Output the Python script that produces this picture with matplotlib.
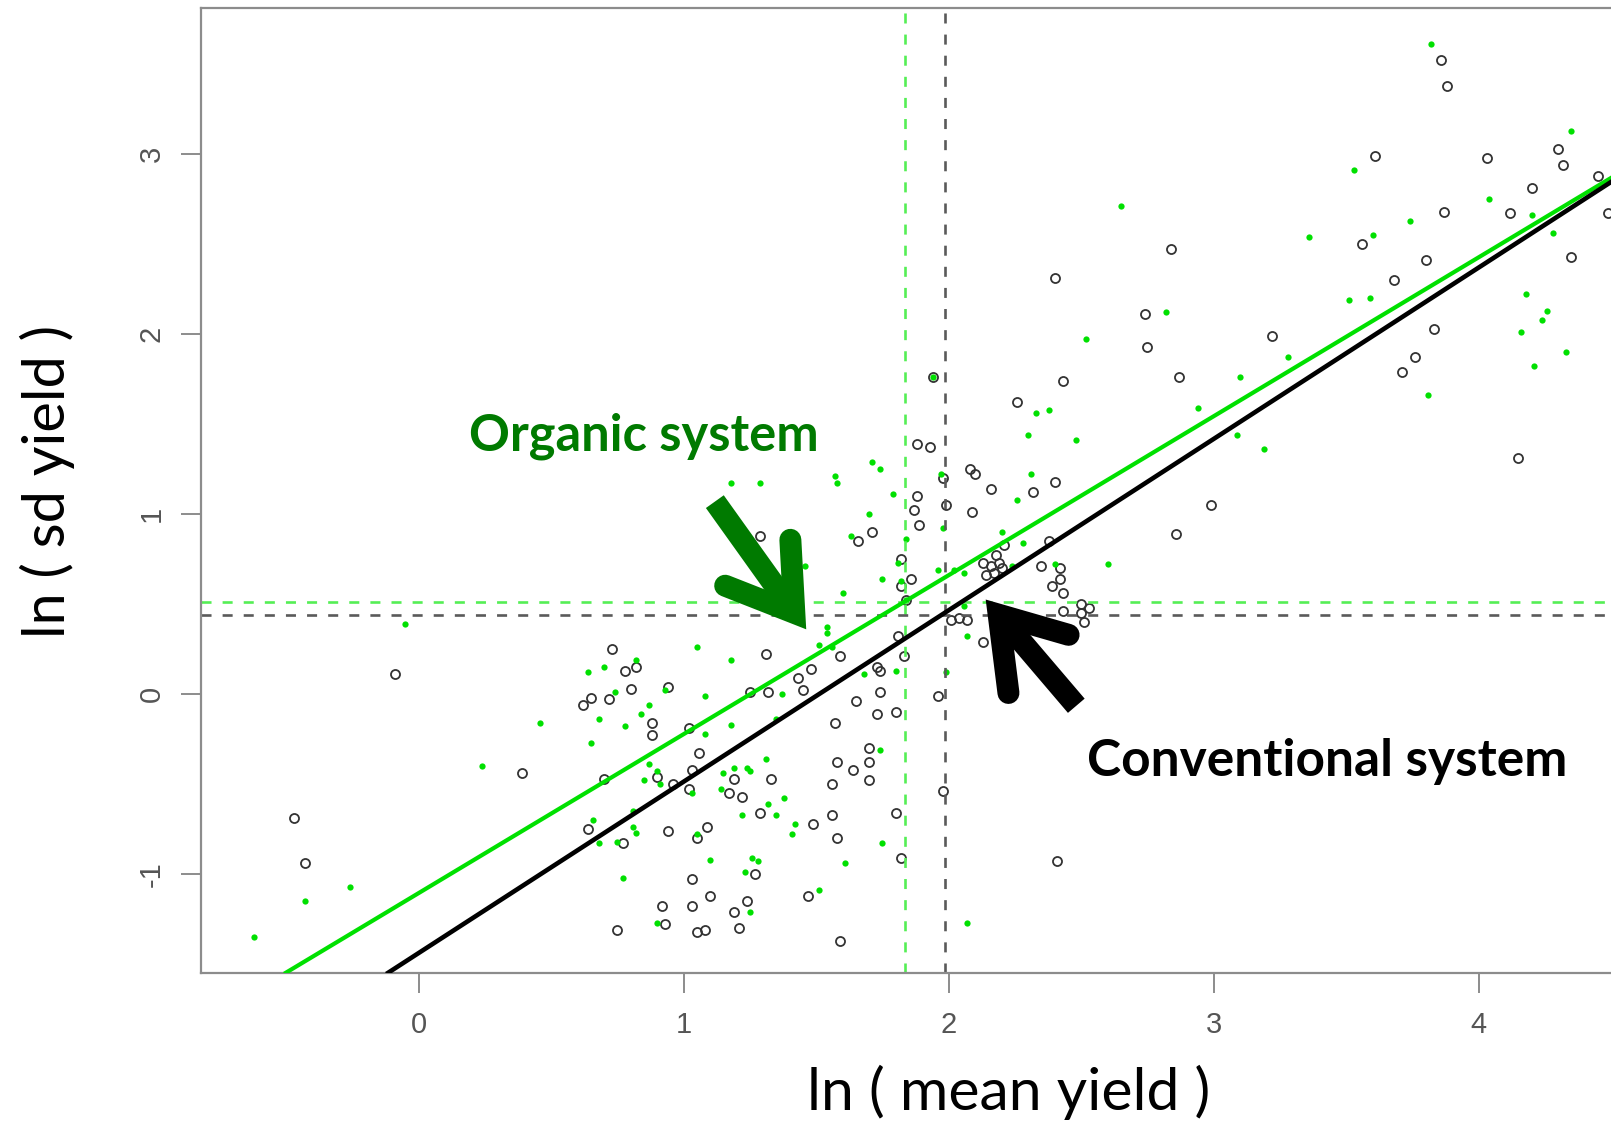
import matplotlib
matplotlib.use("Agg")
import matplotlib.pyplot as plt

plt.rcParams['axes.unicode_minus'] = False

# ---- data: ln(mean yield) vs ln(sd yield) per crop/site ----
conv_x = [-0.09, 0.73, 0.78, 0.82, 0.80, 0.94, 0.62, 0.65, 0.72, 0.88, 0.88, 1.02, 1.06, 0.39, 0.70,
          0.90, 1.03, 0.96, 1.02, 0.64, 0.94, 0.77, 1.05, 1.03, 0.92, 1.03, 0.93, 0.75, 1.05, -0.47,
          -0.43,
          2.26, 1.88, 1.93, 2.08, 2.10, 1.98, 2.40, 2.16, 2.32, 1.88, 1.99, 1.87, 2.09, 1.89, 1.71,
          1.66, 1.29, 2.21, 2.38, 1.82, 2.13, 2.16, 2.19, 2.18, 2.14, 2.17, 2.20, 1.86, 1.82, 2.35,
          2.42, 2.42, 2.39, 2.43, 2.50, 2.53, 2.43, 2.50, 2.51, 1.84, 2.01, 2.04, 2.07, 2.13, 1.81,
          1.31, 1.59, 1.83, 1.48, 1.43, 1.73, 1.74, 1.45, 1.25, 1.32, 1.74, 1.96,
          1.65, 1.73, 1.80, 1.57, 1.70, 1.58, 1.64, 1.70, 1.70, 1.56, 1.19, 1.33, 1.17, 1.22, 1.98,
          1.29, 1.56, 1.80, 1.49, 1.09, 1.58, 1.82, 2.41, 1.27, 1.10, 1.24, 1.19, 1.47, 1.21, 1.08,
          1.59,
          2.40, 1.94, 2.43,
          3.86, 3.88, 3.61, 4.03, 4.30, 4.32, 4.45, 4.20, 3.87, 4.12, 4.49, 3.56, 2.84, 3.80, 3.68,
          4.35, 2.74, 2.75, 3.22, 3.83, 3.76, 3.71, 2.87, 4.15,
          2.99, 2.86]
conv_y = [0.11, 0.25, 0.13, 0.15, 0.03, 0.04, -0.06, -0.02, -0.03, -0.16, -0.23, -0.19, -0.33, -0.44, -0.47,
          -0.46, -0.42, -0.50, -0.53, -0.75, -0.76, -0.83, -0.80, -1.03, -1.18, -1.18, -1.28, -1.31, -1.32, -0.69,
          -0.94,
          1.62, 1.39, 1.37, 1.25, 1.22, 1.20, 1.18, 1.14, 1.12, 1.10, 1.05, 1.02, 1.01, 0.94, 0.90,
          0.85, 0.88, 0.83, 0.85, 0.75, 0.73, 0.71, 0.73, 0.77, 0.66, 0.67, 0.70, 0.64, 0.60, 0.71,
          0.70, 0.64, 0.60, 0.56, 0.50, 0.48, 0.46, 0.45, 0.40, 0.52, 0.41, 0.42, 0.41, 0.29, 0.32,
          0.22, 0.21, 0.21, 0.14, 0.09, 0.15, 0.13, 0.02, 0.01, 0.01, 0.01, -0.01,
          -0.04, -0.11, -0.10, -0.16, -0.30, -0.38, -0.42, -0.38, -0.48, -0.50, -0.47, -0.47, -0.55, -0.57, -0.54,
          -0.66, -0.67, -0.66, -0.72, -0.74, -0.80, -0.91, -0.93, -1.00, -1.12, -1.15, -1.21, -1.12, -1.30, -1.31,
          -1.37,
          2.31, 1.76, 1.74,
          3.52, 3.38, 2.99, 2.98, 3.03, 2.94, 2.88, 2.81, 2.68, 2.67, 2.67, 2.50, 2.47, 2.41, 2.30,
          2.43, 2.11, 1.93, 1.99, 2.03, 1.87, 1.79, 1.76, 1.31,
          1.05, 0.89]

org_x = [-0.05, 1.05, 0.64, 0.70, 0.82, 0.74, 0.46, 0.68, 0.65, 0.78, 0.84, 0.87, 0.93, 0.24, 0.87,
         0.90, 0.85, 0.91, 1.03, 0.66, 0.81, 0.81, 0.82, 0.68, 0.75, 1.05, 0.77, 0.90, -0.26, -0.43,
         -0.62,
         2.33, 2.38, 2.30, 2.48, 1.71, 1.74, 1.57, 1.58, 1.18, 1.29, 1.97, 2.31, 1.79, 2.26, 1.70,
         1.98, 1.63, 1.84, 2.20, 2.28, 1.81, 1.96, 2.02, 2.06, 2.24, 2.40, 2.60, 1.75, 1.82, 1.60,
         1.84, 2.06, 1.54, 1.54, 1.51, 1.56, 2.07, 1.18, 1.68, 1.80, 1.99, 1.37, 1.08, 1.46,
         1.18, 1.08, 1.35, 1.31, 1.15, 1.19, 1.24, 1.25, 1.14, 1.74, 1.38, 1.32, 1.35, 1.22, 1.42,
         1.41, 1.75, 1.10, 1.26, 1.28, 1.61, 1.23, 1.51, 1.25, 2.07,
         2.52, 1.94,
         3.82, 4.35, 3.53, 2.65, 4.04, 4.20, 3.74, 3.60, 3.36, 4.28, 3.51, 3.59, 2.82, 4.18, 4.26,
         4.24, 4.16, 4.33, 4.21, 3.28, 3.10, 2.94, 3.81, 3.09, 3.19]
org_y = [0.39, 0.26, 0.12, 0.15, 0.19, 0.01, -0.16, -0.14, -0.27, -0.18, -0.11, -0.06, 0.02, -0.40, -0.39,
         -0.43, -0.48, -0.50, -0.55, -0.70, -0.65, -0.74, -0.77, -0.83, -0.82, -0.78, -1.02, -1.27, -1.07, -1.15,
         -1.35,
         1.56, 1.58, 1.44, 1.41, 1.29, 1.25, 1.21, 1.17, 1.17, 1.17, 1.22, 1.22, 1.11, 1.08, 1.00,
         0.92, 0.88, 0.86, 0.90, 0.84, 0.73, 0.69, 0.69, 0.67, 0.71, 0.72, 0.72, 0.64, 0.63, 0.56,
         0.52, 0.49, 0.37, 0.34, 0.27, 0.26, 0.32, 0.19, 0.11, 0.13, 0.12, 0.00, -0.01, 0.71,
         -0.17, -0.22, -0.14, -0.36, -0.44, -0.41, -0.41, -0.43, -0.53, -0.31, -0.58, -0.61, -0.67, -0.67, -0.72,
         -0.78, -0.83, -0.92, -0.91, -0.93, -0.94, -0.99, -1.09, -1.21, -1.27,
         1.97, 1.76,
         3.61, 3.13, 2.91, 2.71, 2.75, 2.66, 2.63, 2.55, 2.54, 2.56, 2.19, 2.20, 2.12, 2.22, 2.13,
         2.08, 2.01, 1.90, 1.82, 1.87, 1.76, 1.59, 1.66, 1.44, 1.36]

# fitted lines (intercept, slope) and group means
conv_fit = (-1.439, 0.952)
org_fit = (-1.106, 0.883)
conv_mean = (1.985, 0.44)
org_mean = (1.837, 0.514)

x_ticks = [0, 1, 2, 3, 4]
y_ticks = [-1, 0, 1, 2, 3]

# ---- figure / axes geometry (pixels) ----
FIG_W, FIG_H = 1611, 1125
x_lim = (-0.821, 4.75)
y_lim = (-1.548, 3.811)
PX_X, PX_Y = 265.0, 180.0
ax_left, ax_bottom = 201.0, FIG_H - 972.7

fig = plt.figure(figsize=(FIG_W / 100, FIG_H / 100), dpi=100)
ax = fig.add_axes([ax_left / FIG_W, ax_bottom / FIG_H,
                   (x_lim[1] - x_lim[0]) * PX_X / FIG_W,
                   (y_lim[1] - y_lim[0]) * PX_Y / FIG_H])
ax.set_xlim(*x_lim)
ax.set_ylim(*y_lim)

GREEN = '#00e000'
DARK_GREEN = '#007a00'

# points
ax.plot(conv_x, conv_y, linestyle='none', marker='o', markersize=6.5,
        markerfacecolor='none', markeredgecolor='#333333', markeredgewidth=1.3, zorder=2)
ax.plot(org_x, org_y, linestyle='none', marker='o', markersize=4.5,
        markerfacecolor=GREEN, markeredgewidth=0, zorder=2.1)

# mean lines
dash = (3.8, 4.2)
ax.axvline(org_mean[0], color='#55ee55', lw=1.9, dashes=dash, zorder=2.5)
ax.axhline(org_mean[1], color='#55ee55', lw=1.9, dashes=dash, zorder=2.5)
ax.axvline(conv_mean[0], color='#5a5a5a', lw=1.9, dashes=dash, zorder=2.5)
ax.axhline(conv_mean[1], color='#5a5a5a', lw=1.9, dashes=dash, zorder=2.5)

# regression lines
ax.axline((0, org_fit[0]), slope=org_fit[1], color=GREEN, lw=3.0, zorder=3)
ax.axline((0, conv_fit[0]), slope=conv_fit[1], color='black', lw=3.3, zorder=3.1)

# axes styling
for side in ('left', 'bottom', 'top', 'right'):
    ax.spines[side].set_color('#8c8c8c')
    ax.spines[side].set_linewidth(1.6)
ax.set_xticks(x_ticks)
ax.set_yticks(y_ticks)
ax.tick_params(direction='out', length=14.4, width=1.4, color='#8c8c8c',
               labelcolor='#555555', labelsize=21)
ax.tick_params(axis='x', pad=13)
ax.tick_params(axis='y', pad=11, labelrotation=90)
for lab in ax.get_yticklabels():
    lab.set_va('center')
for lab in ax.get_xticklabels() + ax.get_yticklabels():
    lab.set_family('Liberation Sans')

# axis titles
xl = fig.text(1009 / FIG_W, (FIG_H - 1110) / FIG_H, 'ln ( mean yield )', ha='center',
              va='baseline', fontsize=40, family='Lato', color='black')
yl = fig.text(65 / FIG_W, (FIG_H - 481) / FIG_H, 'ln ( sd yield )', ha='center',
              va='baseline', rotation=90, rotation_mode='anchor', fontsize=40,
              family='Lato', color='black')

# annotations
t_org = ax.text(0.189, 1.352, 'Organic system', color=DARK_GREEN, fontsize=34,
                fontweight='bold', family='Lato', ha='left', va='baseline', zorder=5)
t_conv = ax.text(2.523, -0.457, 'Conventional system', color='black', fontsize=34,
                 fontweight='bold', family='Lato', ha='left', va='baseline', zorder=5)

# arrows: flat-ended shaft + open head with rounded wing ends, in data coordinates
org_arrow = dict(start=(1.118, 1.069), tip=(1.418, 0.451),
                 wing_a=(1.157, 0.602), wing_b=(1.403, 0.857))
conv_arrow = dict(start=(2.482, -0.065), tip=(2.189, 0.441),
                  wing_a=(2.453, 0.329), wing_b=(2.226, 0.006))

ARROW_LW = 15.8
for arr, col in ((org_arrow, DARK_GREEN), (conv_arrow, 'black')):
    ax.plot([arr['start'][0], arr['tip'][0]], [arr['start'][1], arr['tip'][1]],
            color=col, lw=ARROW_LW, solid_capstyle='butt', zorder=6, clip_on=False)
    ax.plot([arr['wing_a'][0], arr['tip'][0], arr['wing_b'][0]],
            [arr['wing_a'][1], arr['tip'][1], arr['wing_b'][1]],
            color=col, lw=ARROW_LW, solid_capstyle='round', solid_joinstyle='miter',
            zorder=6, clip_on=False)

# size the texts to their target extents (pixels)
fig.canvas.draw()
renderer = fig.canvas.get_renderer()
for txt, target, use_h in ((t_org, 350, False), (t_conv, 481, False),
                           (xl, 402, False), (yl, 312, True)):
    bb = txt.get_window_extent(renderer)
    cur = bb.height if use_h else bb.width
    txt.set_fontsize(txt.get_fontsize() * target / cur)

fig.savefig('out.png', dpi=100)
